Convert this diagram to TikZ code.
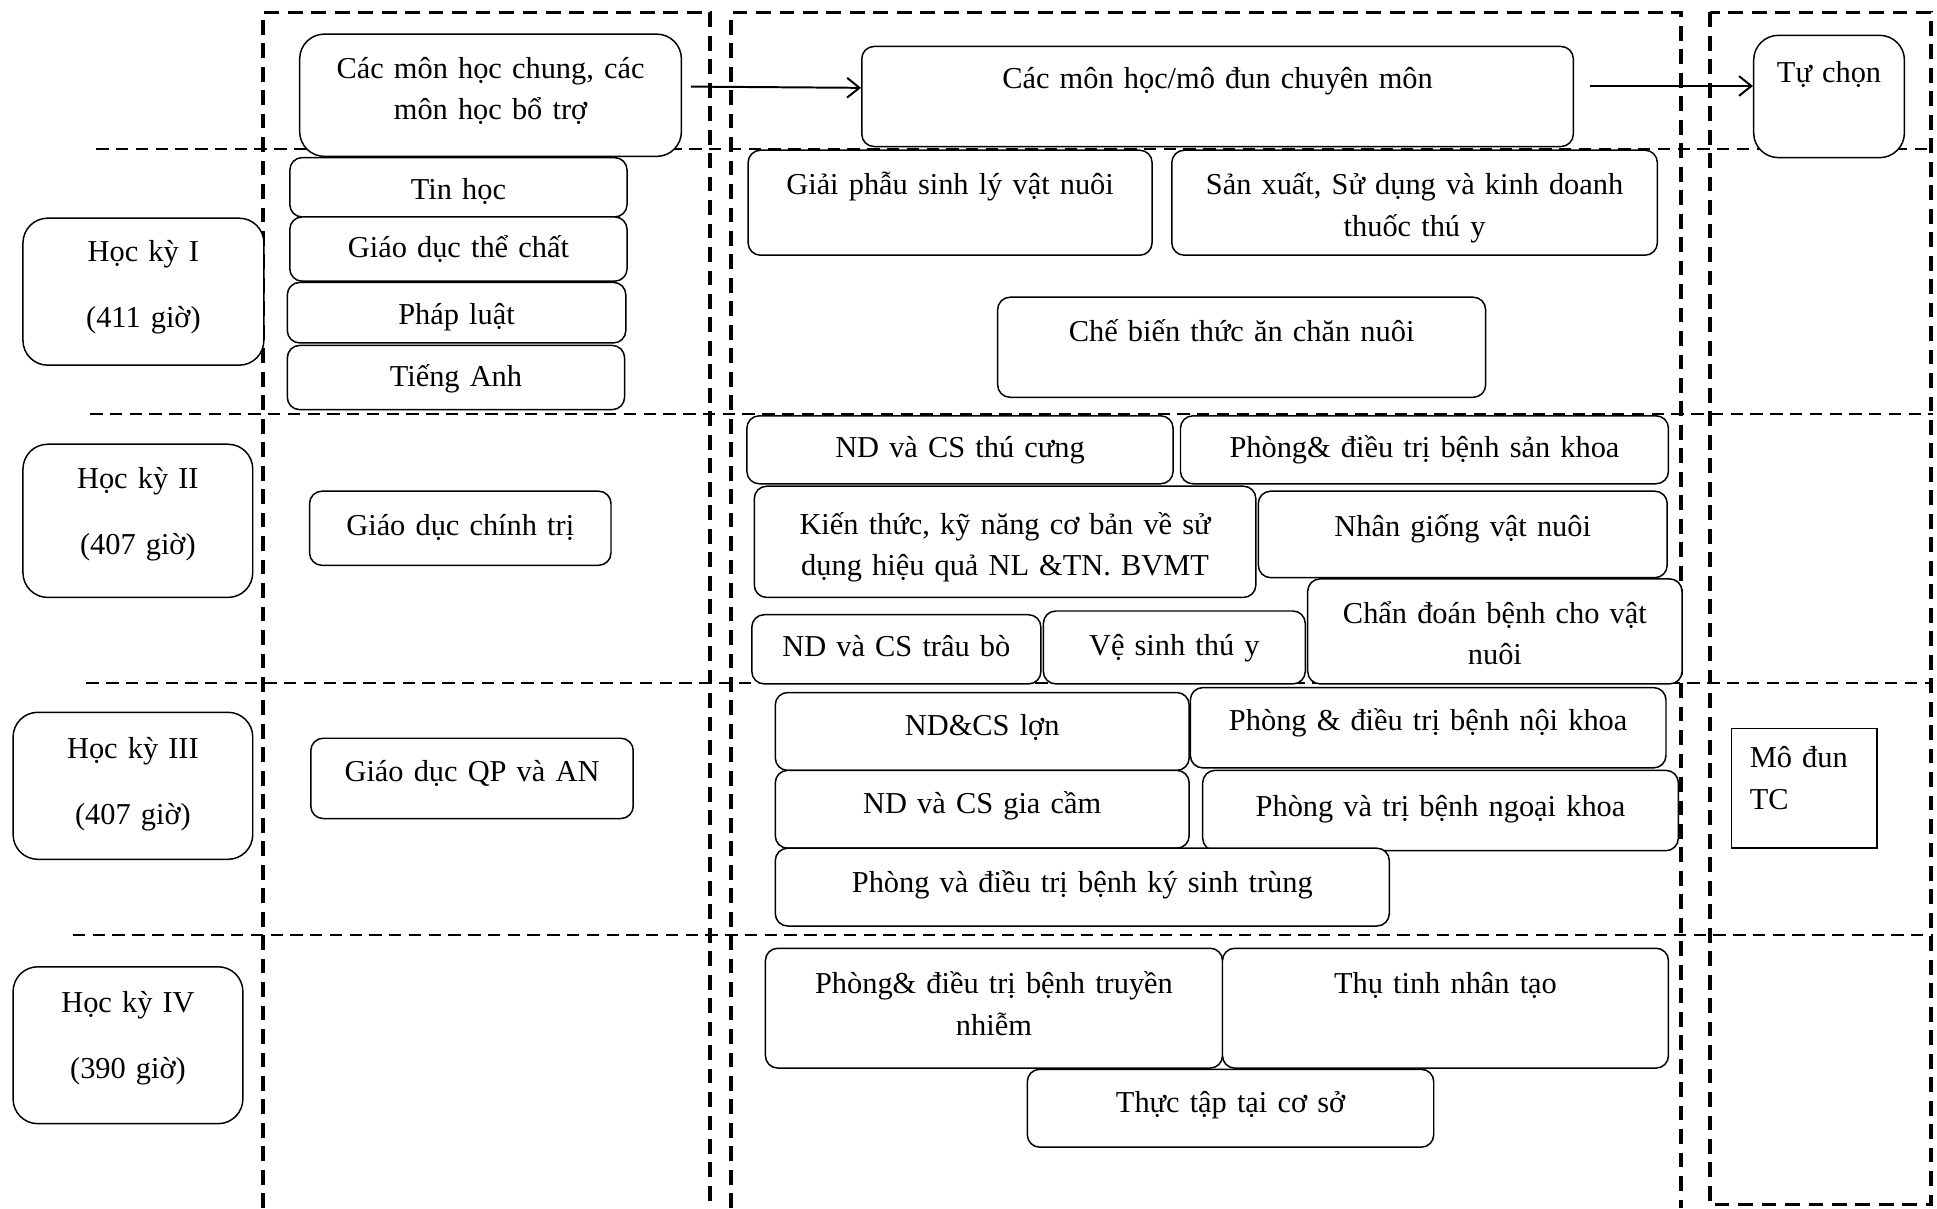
\documentclass[tikz,border=0pt]{standalone}
\usepackage{fontspec}
\setmainfont{Liberation Serif}
\usetikzlibrary{arrows.meta}

\begin{document}
\begin{tikzpicture}[x=1pt,y=-1pt,
  course/.style={draw,fill=white,line width=1.2pt,rounded corners=10pt,
    inner sep=0pt,align=center,anchor=north west,
    font=\fontsize{24.6}{33.5}\selectfont},
  term/.style={course,rounded corners=20pt},
  frame/.style={line width=3pt,dash pattern=on 12pt off 7pt},
  sep/.style={line width=1.6pt,dash pattern=on 10pt off 6pt},
  link/.style={line width=1.6pt,-{Straight Barb[length=10pt,width=16pt]}}]
  \useasboundingbox (0,0) rectangle (1568,978);

  % columns and terms
  \draw[frame] (213,978) -- (213,10) -- (575,10) -- (575,978);
  \draw[frame] (592,978) -- (592,10) -- (1361,10) -- (1361,978);
  \draw[frame] (1384,10) rectangle (1563,975);
  \draw[sep] (78,121) -- (1565,121);
  \draw[sep] (73,335) -- (1565,335);
  \draw[sep] (70,553) -- (1565,553);
  \draw[sep] (59,757) -- (1565,757);

  % header row
  \node[term,text width=309pt,text height=36pt,text depth=63pt] (gen) at (242,27) {Các môn học chung, các\\môn học bổ trợ};
  \node[course,text width=576pt,text height=34pt,text depth=47pt] (spec) at (697,37) {Các môn học/mô đun chuyên môn};
  \node[term,text width=122pt,text height=38pt,text depth=61pt] (elec) at (1419,28) {Tự chọn};
  \draw[link] ([xshift=7pt,yshift=7pt]gen.east) -- ([yshift=7pt]spec.west);
  \draw[link] ([xshift=13pt,yshift=8.5pt]spec.east) -- ([yshift=8.5pt]elec.west);

  % term I
  \node[term,text width=195pt,text height=35pt,text depth=84pt] (hkI) at (18,176) {Học kỳ I\\[20pt](411 giờ)};
  \node[course,text width=273pt,text height=34pt,text depth=14pt] (tin) at (234,127) {Tin học};
  \node[course,text width=273pt,text height=33pt,text depth=19pt] (gdtc) at (234,175) {Giáo dục thể chất};
  \node[course,text width=274pt,text height=34pt,text depth=15pt] (pl) at (232,228) {Pháp luật};
  \node[course,text width=273pt,text height=33pt,text depth=19pt] (ta) at (232,279) {Tiếng Anh};
  \node[course,text width=327pt,text height=36pt,text depth=49pt] (gp) at (605,121) {Giải phẫu sinh lý vật nuôi};
  \node[course,text width=393pt,text height=36pt,text depth=49pt] (sx) at (948,121) {Sản xuất, Sử dụng và kinh doanh\\thuốc thú y};
  \node[course,text width=395pt,text height=36pt,text depth=45pt] (cb) at (807,240) {Chế biến thức ăn chăn nuôi};

  % term II
  \node[term,text width=186pt,text height=36pt,text depth=88pt] (hkII) at (18,359) {Học kỳ II\\[20pt](407 giờ)};
  \node[course,text width=244pt,text height=36pt,text depth=24pt] (gdct) at (250,397) {Giáo dục chính trị};
  \node[course,text width=345pt,text height=34pt,text depth=21pt] (tcung) at (604,336) {ND và CS thú cưng};
  \node[course,text width=395pt,text height=34pt,text depth=21pt] (skhoa) at (955,336) {Phòng\& điều trị bệnh sản khoa};
  \node[course,text width=406pt,text height=39pt,text depth=51pt] (kthuc) at (610,393) {Kiến thức, kỹ năng cơ bản về sử\\dụng hiệu quả NL \&TN. BVMT};
  \node[course,text width=331pt,text height=37pt,text depth=33pt] (ngiong) at (1018,397) {Nhân giống vật nuôi};
  \node[course,text width=234pt,text height=34pt,text depth=22pt] (tbo) at (608,497) {ND và CS trâu bò};
  \node[course,text width=212pt,text height=36pt,text depth=23pt] (vsinh) at (844,494) {Vệ sinh thú y};
  \node[course,text width=303pt,text height=36pt,text depth=49pt] (cdoan) at (1058,468) {Chẩn đoán bệnh cho vật\\nuôi};

  % term III
  \node[term,text width=194pt,text height=37pt,text depth=82pt] (hkIII) at (10,576) {Học kỳ III\\[20pt](407 giờ)};
  \node[course,text width=261pt,text height=35pt,text depth=30pt] (qpan) at (251,597) {Giáo dục QP và AN};
  \node[course,text width=335pt,text height=35pt,text depth=28pt] (lon) at (627,560) {ND\&CS lợn};
  \node[course,text width=385pt,text height=35pt,text depth=30pt] (nkhoa) at (963,556) {Phòng \& điều trị bệnh nội khoa};
  \node[course,text width=335pt,text height=35pt,text depth=28pt] (gcam) at (627,623) {ND và CS gia cầm};
  \node[course,text width=385pt,text height=37pt,text depth=28pt] (ngkhoa) at (973,623) {Phòng và trị bệnh ngoại khoa};
  \node[course,text width=497pt,text height=36pt,text depth=27pt] (kst) at (627,686) {Phòng và điều trị bệnh ký sinh trùng};
  \node[course,sharp corners,line width=1pt,align=left,inner xsep=15pt,text width=88pt,text height=32pt,text depth=65pt] (tc) at (1401,589) {Mô đun\\TC};

  % term IV
  \node[term,text width=186pt,text height=37pt,text depth=90pt] (hkIV) at (10,782) {Học kỳ IV\\[20pt](390 giờ)};
  \node[course,text width=370pt,text height=37pt,text depth=60pt] (tnhiem) at (619,767) {Phòng\& điều trị bệnh truyền\\nhiễm};
  \node[course,text width=361pt,text height=37pt,text depth=60pt] (ttinh) at (989,767) {Thụ tinh nhân tạo};
  \node[course,text width=329pt,text height=35pt,text depth=28pt] (ttap) at (831,865) {Thực tập tại cơ sở};
\end{tikzpicture}
\end{document}
